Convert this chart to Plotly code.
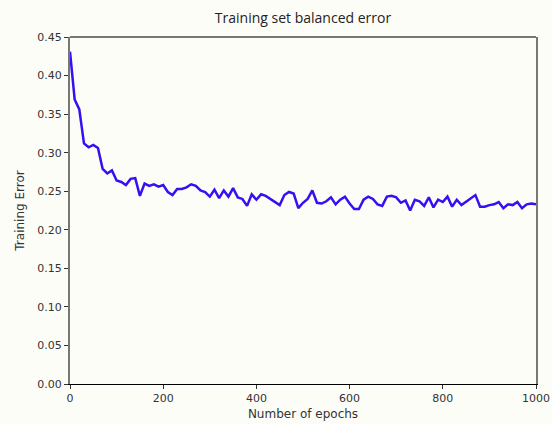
import plotly.graph_objects as go

epochs = list(range(0, 1001, 10))
train_error = [
    0.431, 0.369, 0.356, 0.312, 0.307, 0.310, 0.306, 0.279, 0.273, 0.277,
    0.264, 0.262, 0.258, 0.266, 0.267, 0.244, 0.260, 0.257, 0.259, 0.256,
    0.258, 0.249, 0.245, 0.253, 0.253, 0.255, 0.259, 0.257, 0.251, 0.249,
    0.243, 0.252, 0.241, 0.251, 0.243, 0.254, 0.242, 0.240, 0.231, 0.246,
    0.239, 0.246, 0.244, 0.240, 0.235, 0.232, 0.245, 0.249, 0.247, 0.228,
    0.235, 0.240, 0.251, 0.235, 0.234, 0.237, 0.242, 0.233, 0.239, 0.243,
    0.234, 0.227, 0.227, 0.239, 0.243, 0.240, 0.233, 0.231, 0.243, 0.244,
    0.242, 0.235, 0.238, 0.225, 0.239, 0.237, 0.231, 0.242, 0.229, 0.239,
    0.236, 0.243, 0.230, 0.239, 0.232, 0.236, 0.241, 0.245, 0.230, 0.230,
    0.232, 0.233, 0.236, 0.228, 0.233, 0.232, 0.236, 0.228, 0.233, 0.234,
    0.233,
]
x_ticks = [0, 200, 400, 600, 800, 1000]
y_ticks = [0.00, 0.05, 0.10, 0.15, 0.20, 0.25, 0.30, 0.35, 0.40, 0.45]

bg = "#fdfdf8"
tick_font = dict(family="DejaVu Sans", size=11, color="#333333")

fig = go.Figure()
fig.add_trace(go.Scatter(
    x=epochs, y=train_error, mode="lines",
    line=dict(color="rgb(55,15,240)", width=2.5),
    showlegend=False, hoverinfo="skip",
))

fig.update_layout(
    width=552, height=424,
    margin=dict(l=70, r=16, t=37, b=40),
    paper_bgcolor=bg, plot_bgcolor=bg,
    title=dict(text="Training set balanced error", x=0.5, xref="paper",
               y=1 - 18 / 424, yref="container", yanchor="middle", xanchor="center",
               font=dict(family="Open Sans", size=14, color="#222222")),
    xaxis=dict(range=[0, 1000], tickvals=x_ticks, ticktext=[str(v) for v in x_ticks],
               showgrid=False, zeroline=False, automargin=False,
               showline=True, linecolor="#000000", linewidth=1,
               ticks="outside", ticklen=4, tickcolor="#333333",
               tickfont=tick_font,
               title=dict(text="Number of epochs", standoff=5,
                          font=dict(family="DejaVu Sans", size=12, color="#333333"))),
    yaxis=dict(range=[0, 0.45], tickvals=y_ticks, ticktext=[f"{v:.2f}" for v in y_ticks],
               showgrid=False, zeroline=False, automargin=False,
               showline=True, linecolor="#777777", linewidth=2, mirror=True,
               ticks="outside", ticklen=4, tickcolor="#333333",
               tickfont=tick_font,
               title=dict(text="Training Error", standoff=10,
                          font=dict(family="DejaVu Sans", size=12, color="#333333"))),
    shapes=[dict(type="line", xref="paper", yref="paper", x0=0, x1=1, y0=1, y1=1,
                 line=dict(color="#777777", width=2))],
)

fig.write_html("out.html",
               config={"displayModeBar": False},
               post_script="document.body.style.margin='0';document.body.style.background='%s';" % bg)
